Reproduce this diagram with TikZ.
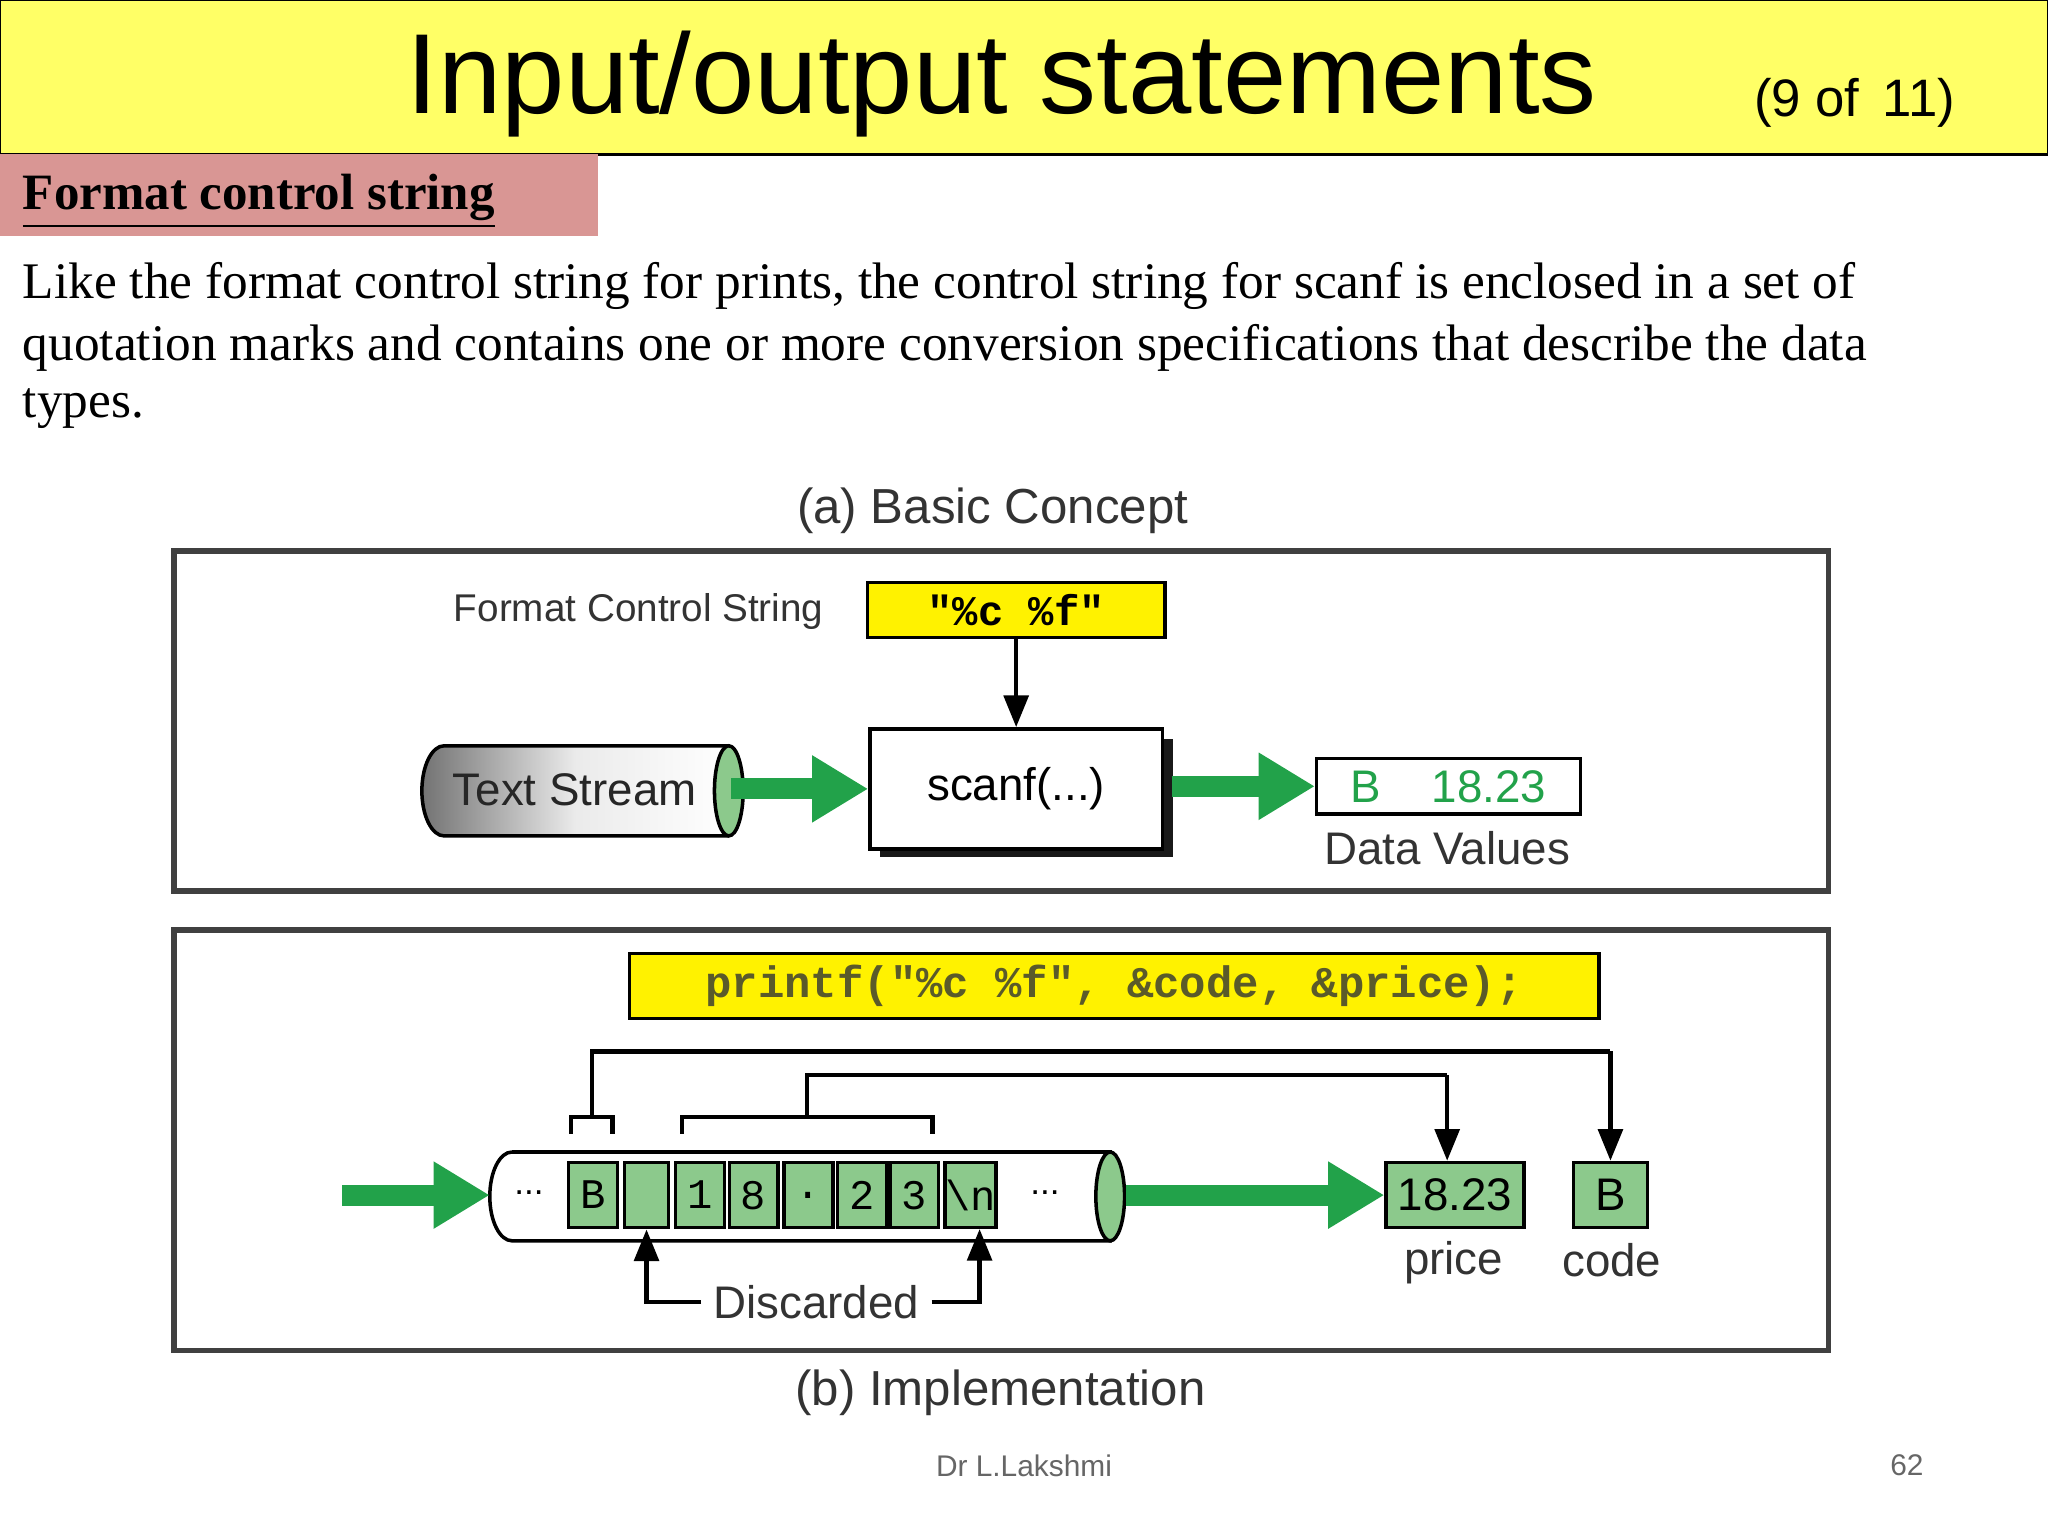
\documentclass[tikz,border=0pt]{standalone}
\usepackage{fontspec}
\setmainfont{Liberation Serif}
\setsansfont{Liberation Sans}
\setmonofont{Liberation Mono}
\usetikzlibrary{arrows.meta,shapes.geometric}
\definecolor{hdr}{HTML}{FFFF66}
\definecolor{pinkb}{HTML}{D99694}
\definecolor{gr}{HTML}{22A24A}
\definecolor{lgr}{HTML}{8CC98C}
\definecolor{ybox}{HTML}{FFF200}
\definecolor{olive}{HTML}{5A5A2A}
\newcommand{\fs}[1]{\fontsize{#1}{#1}\selectfont}
\tikzset{x=0.013061cm,y=-0.013061cm,
 frame/.style={draw=black!75,line width=1.6pt},
 cell/.style={draw=black,fill=lgr,line width=1pt},
 garrow/.style={draw=gr,line width=6pt,-{Triangle[length=16pt,width=18pt]}},
 barrow/.style={draw=black,line width=1.2pt,-{Triangle[length=9pt,width=7pt]}},
 lbl/.style={font=\sffamily\fs{11}},
}
\begin{document}
\begin{tikzpicture}
\useasboundingbox (0,0) rectangle (1568,1176);
% header
\draw[fill=hdr,line width=0.8pt] (0,0) rectangle (1568,118);
\node[font=\sffamily\fs{32.4}] (title) at (767,64) {Input/output statements};
\node[font=\sffamily\fs{15}] (pg) at (1420,79) {(9 of\, 11)};
\fill[pinkb] (0,118) rectangle (458,181);
\node[anchor=west,font=\bfseries\fs{14.5}] (fcs) at (8,154) {\underline{Format control string}};
\node[anchor=west,font=\fs{14.6}] (p1) at (8,219) {Like the format control string for prints, the control string for scanf is enclosed in a set of};
\node[anchor=west,font=\fs{14.6}] (p2) at (8,266) {quotation marks and contains one or more conversion specifications that describe the data};
\node[anchor=west,font=\fs{14.6}] (p3) at (8,313) {types.};
% (a)
\node[font=\sffamily\fs{14},text=black!80] (ta) at (760,391) {(a) Basic Concept};
\draw[frame] (133,422) rectangle (1400,682);
\node[anchor=east,lbl,text=black!80] (fcl) at (640,468) {Format Control String};
\node[draw=black,fill=ybox,line width=1pt,minimum width=228*0.3713pt,minimum height=39*0.3713pt,font=\ttfamily\bfseries\fs{12}] (fy) at (778,467) {"\%c \%f"};
\fill[black!90] (674,566) rectangle (898,656);
\node[draw=black,fill=white,line width=1pt,minimum width=224*0.3713pt,minimum height=92*0.3713pt,font=\sffamily\fs{13}] (sc) at (778,604) {scanf(...)};
\draw[barrow] (fy.south) -- (sc.north);
% text stream cylinder
\shade[left color=black!55,right color=white,middle color=black!8] (340,571) -- (558,571) -- (558,640) -- (340,640) arc (90:270:17 and 34.5);
\draw[line width=1pt] (340,571) -- (558,571) (340,640) -- (558,640) (340,640) arc (90:270:17 and 34.5);
\draw[fill=lgr,line width=1pt] (558,605.5) ellipse (11 and 34.5);
\node[font=\sffamily\fs{13},text=black!85] (ts) at (440,605) {Text Stream};
\coordinate (tsr) at (560,604);
\draw[garrow] (tsr) -- (sc.west);
\node[draw=black,line width=1pt,minimum width=202*0.3713pt,minimum height=39*0.3713pt,font=\sffamily\fs{13},text=gr] (dv) at (1109,602) {B\hspace{1.1em}18.23};
\coordinate (scr) at (897,602);
\draw[garrow] (scr) -- (dv.west);
\node[font=\sffamily\fs{13},text=black!80] (dvl) at (1108,649) {Data Values};
% (b)
\draw[frame] (133,712) rectangle (1400,1034);
\node[draw=black,fill=ybox,line width=1pt,minimum width=743*0.3713pt,minimum height=39*0.3713pt,font=\ttfamily\bfseries\fs{12.5},text=olive] (pf) at (853,755) {printf("\%c \%f", \&code, \&price);};
% tube
\draw[line width=1pt,fill=white] (392,882) -- (850,882) -- (850,950) -- (392,950) arc (90:270:17 and 34);
\draw[fill=lgr,line width=1pt] (850,916) ellipse (11 and 34);
\node[font=\sffamily\fs{10}] (d1) at (405,913) {...};
\node[font=\sffamily\fs{10}] (d2) at (800,913) {...};
\foreach \n/\x/\t in {cB/454/B,c0/495/{},c1/536/1,c2/577/8,c3/619/.,c4/660/2,c5/700/3}
  \node[cell,minimum width=34*0.3713pt,minimum height=50*0.3713pt,font=\ttfamily\fs{12}] (\n) at (\x,915) {\t};
\node[cell,minimum width=38*0.3713pt,minimum height=50*0.3713pt,inner sep=0pt,font=\ttfamily\fs{12}] (c6) at (743,915) {\textbackslash n};
\coordinate (inl) at (262,915);
\coordinate (tl) at (375,915);
\draw[garrow] (inl) -- (tl);
\node[cell,minimum width=98*0.3713pt,minimum height=50*0.3713pt,font=\sffamily\fs{13}] (pr) at (1114,915) {18.23};
\node[cell,minimum width=57*0.3713pt,minimum height=50*0.3713pt,font=\sffamily\fs{13}] (cd) at (1233,915) {B};
\coordinate (tr) at (862,915);
\draw[garrow] (tr) -- (pr.west);
\node[font=\sffamily\fs{13},text=black!80] (prl) at (1113,967) {price};
\node[font=\sffamily\fs{13},text=black!80] (cdl) at (1234,965) {code};
% brackets
\draw[line width=1.2pt] (437,868) -- (437,855) -- (469,855) -- (469,868);
\draw[line width=1.2pt] (522,868) -- (522,855) -- (714,855) -- (714,868);
\draw[line width=1.2pt] (453,855) -- (453,805) -- (1233,805);
\draw[barrow] (1233,805) -- (cd.north);
\draw[line width=1.2pt] (618,855) -- (618,823) -- (1108,823);
\draw[barrow] (1108,823) -- (pr.north -| 1108,0);
\node[font=\sffamily\fs{13},text=black!80] (disc) at (625,997) {Discarded};
\draw[barrow] (disc.west) -- (495,997) -- (c0.south);
\draw[barrow] (disc.east) -- (750,997) -- (750,941);
\node[font=\sffamily\fs{14},text=black!80] (tb) at (766,1066) {(b) Implementation};
\node[font=\sffamily\fs{8.5},text=black!60] (au) at (784,1122) {Dr L.Lakshmi};
\node[font=\sffamily\fs{8.5},text=black!60] (num) at (1460,1122) {62};
\end{tikzpicture}
\end{document}
